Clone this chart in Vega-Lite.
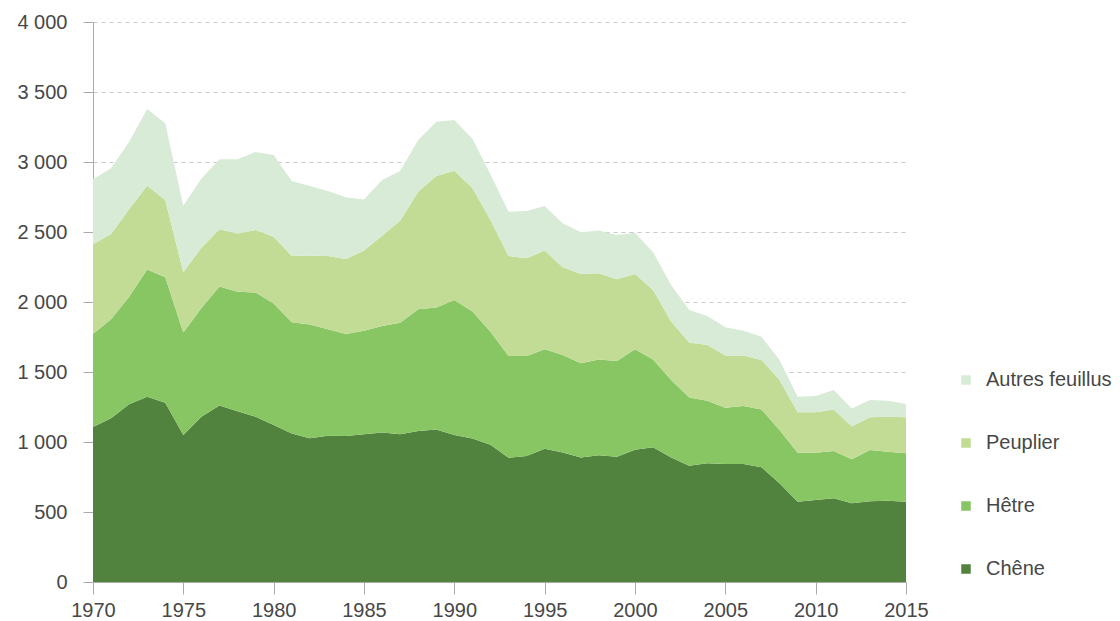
{
  "$schema": "https://vega.github.io/schema/vega-lite/v6.json",
  "autosize": {"type": "none"},
  "width": 813,
  "height": 560,
  "padding": {"left": 93, "top": 22, "right": 214, "bottom": 39},
  "background": "white",
  "config": {
    "view": {"stroke": null},
    "font": "Liberation Sans",
    "locale": {"number": {"decimal": ",", "thousands": " ", "grouping": [3], "currency": ["", " €"]}}
  },
  "data": {"values": [
    {"year":1970,"species":"Chêne","volume":1107},{"year":1970,"species":"Hêtre","volume":664},{"year":1970,"species":"Peuplier","volume":641},{"year":1970,"species":"Autres feuillus","volume":464},
    {"year":1971,"species":"Chêne","volume":1170},{"year":1971,"species":"Hêtre","volume":706},{"year":1971,"species":"Peuplier","volume":610},{"year":1971,"species":"Autres feuillus","volume":469},
    {"year":1972,"species":"Chêne","volume":1270},{"year":1972,"species":"Hêtre","volume":768},{"year":1972,"species":"Peuplier","volume":624},{"year":1972,"species":"Autres feuillus","volume":483},
    {"year":1973,"species":"Chêne","volume":1324},{"year":1973,"species":"Hêtre","volume":909},{"year":1973,"species":"Peuplier","volume":598},{"year":1973,"species":"Autres feuillus","volume":548},
    {"year":1974,"species":"Chêne","volume":1280},{"year":1974,"species":"Hêtre","volume":896},{"year":1974,"species":"Peuplier","volume":553},{"year":1974,"species":"Autres feuillus","volume":547},
    {"year":1975,"species":"Chêne","volume":1050},{"year":1975,"species":"Hêtre","volume":733},{"year":1975,"species":"Peuplier","volume":429},{"year":1975,"species":"Autres feuillus","volume":476},
    {"year":1976,"species":"Chêne","volume":1180},{"year":1976,"species":"Hêtre","volume":777},{"year":1976,"species":"Peuplier","volume":431},{"year":1976,"species":"Autres feuillus","volume":495},
    {"year":1977,"species":"Chêne","volume":1260},{"year":1977,"species":"Hêtre","volume":850},{"year":1977,"species":"Peuplier","volume":409},{"year":1977,"species":"Autres feuillus","volume":500},
    {"year":1978,"species":"Chêne","volume":1220},{"year":1978,"species":"Hêtre","volume":854},{"year":1978,"species":"Peuplier","volume":416},{"year":1978,"species":"Autres feuillus","volume":529},
    {"year":1979,"species":"Chêne","volume":1180},{"year":1979,"species":"Hêtre","volume":887},{"year":1979,"species":"Peuplier","volume":447},{"year":1979,"species":"Autres feuillus","volume":557},
    {"year":1980,"species":"Chêne","volume":1121},{"year":1980,"species":"Hêtre","volume":869},{"year":1980,"species":"Peuplier","volume":476},{"year":1980,"species":"Autres feuillus","volume":584},
    {"year":1981,"species":"Chêne","volume":1060},{"year":1981,"species":"Hêtre","volume":795},{"year":1981,"species":"Peuplier","volume":474},{"year":1981,"species":"Autres feuillus","volume":535},
    {"year":1982,"species":"Chêne","volume":1026},{"year":1982,"species":"Hêtre","volume":814},{"year":1982,"species":"Peuplier","volume":493},{"year":1982,"species":"Autres feuillus","volume":496},
    {"year":1983,"species":"Chêne","volume":1045},{"year":1983,"species":"Hêtre","volume":760},{"year":1983,"species":"Peuplier","volume":524},{"year":1983,"species":"Autres feuillus","volume":464},
    {"year":1984,"species":"Chêne","volume":1042},{"year":1984,"species":"Hêtre","volume":729},{"year":1984,"species":"Peuplier","volume":536},{"year":1984,"species":"Autres feuillus","volume":441},
    {"year":1985,"species":"Chêne","volume":1055},{"year":1985,"species":"Hêtre","volume":740},{"year":1985,"species":"Peuplier","volume":572},{"year":1985,"species":"Autres feuillus","volume":366},
    {"year":1986,"species":"Chêne","volume":1068},{"year":1986,"species":"Hêtre","volume":761},{"year":1986,"species":"Peuplier","volume":645},{"year":1986,"species":"Autres feuillus","volume":397},
    {"year":1987,"species":"Chêne","volume":1055},{"year":1987,"species":"Hêtre","volume":797},{"year":1987,"species":"Peuplier","volume":729},{"year":1987,"species":"Autres feuillus","volume":355},
    {"year":1988,"species":"Chêne","volume":1078},{"year":1988,"species":"Hêtre","volume":870},{"year":1988,"species":"Peuplier","volume":840},{"year":1988,"species":"Autres feuillus","volume":369},
    {"year":1989,"species":"Chêne","volume":1090},{"year":1989,"species":"Hêtre","volume":870},{"year":1989,"species":"Peuplier","volume":940},{"year":1989,"species":"Autres feuillus","volume":388},
    {"year":1990,"species":"Chêne","volume":1050},{"year":1990,"species":"Hêtre","volume":964},{"year":1990,"species":"Peuplier","volume":924},{"year":1990,"species":"Autres feuillus","volume":362},
    {"year":1991,"species":"Chêne","volume":1025},{"year":1991,"species":"Hêtre","volume":908},{"year":1991,"species":"Peuplier","volume":882},{"year":1991,"species":"Autres feuillus","volume":351},
    {"year":1992,"species":"Chêne","volume":980},{"year":1992,"species":"Hêtre","volume":808},{"year":1992,"species":"Peuplier","volume":798},{"year":1992,"species":"Autres feuillus","volume":326},
    {"year":1993,"species":"Chêne","volume":888},{"year":1993,"species":"Hêtre","volume":726},{"year":1993,"species":"Peuplier","volume":715},{"year":1993,"species":"Autres feuillus","volume":316},
    {"year":1994,"species":"Chêne","volume":900},{"year":1994,"species":"Hêtre","volume":714},{"year":1994,"species":"Peuplier","volume":698},{"year":1994,"species":"Autres feuillus","volume":338},
    {"year":1995,"species":"Chêne","volume":952},{"year":1995,"species":"Hêtre","volume":710},{"year":1995,"species":"Peuplier","volume":705},{"year":1995,"species":"Autres feuillus","volume":319},
    {"year":1996,"species":"Chêne","volume":925},{"year":1996,"species":"Hêtre","volume":696},{"year":1996,"species":"Peuplier","volume":627},{"year":1996,"species":"Autres feuillus","volume":314},
    {"year":1997,"species":"Chêne","volume":890},{"year":1997,"species":"Hêtre","volume":672},{"year":1997,"species":"Peuplier","volume":638},{"year":1997,"species":"Autres feuillus","volume":298},
    {"year":1998,"species":"Chêne","volume":905},{"year":1998,"species":"Hêtre","volume":685},{"year":1998,"species":"Peuplier","volume":615},{"year":1998,"species":"Autres feuillus","volume":305},
    {"year":1999,"species":"Chêne","volume":895},{"year":1999,"species":"Hêtre","volume":684},{"year":1999,"species":"Peuplier","volume":583},{"year":1999,"species":"Autres feuillus","volume":317},
    {"year":2000,"species":"Chêne","volume":945},{"year":2000,"species":"Hêtre","volume":717},{"year":2000,"species":"Peuplier","volume":538},{"year":2000,"species":"Autres feuillus","volume":295},
    {"year":2001,"species":"Chêne","volume":962},{"year":2001,"species":"Hêtre","volume":628},{"year":2001,"species":"Peuplier","volume":496},{"year":2001,"species":"Autres feuillus","volume":270},
    {"year":2002,"species":"Chêne","volume":890},{"year":2002,"species":"Hêtre","volume":553},{"year":2002,"species":"Peuplier","volume":417},{"year":2002,"species":"Autres feuillus","volume":261},
    {"year":2003,"species":"Chêne","volume":831},{"year":2003,"species":"Hêtre","volume":486},{"year":2003,"species":"Peuplier","volume":393},{"year":2003,"species":"Autres feuillus","volume":233},
    {"year":2004,"species":"Chêne","volume":848},{"year":2004,"species":"Hêtre","volume":447},{"year":2004,"species":"Peuplier","volume":398},{"year":2004,"species":"Autres feuillus","volume":207},
    {"year":2005,"species":"Chêne","volume":843},{"year":2005,"species":"Hêtre","volume":402},{"year":2005,"species":"Peuplier","volume":372},{"year":2005,"species":"Autres feuillus","volume":202},
    {"year":2006,"species":"Chêne","volume":843},{"year":2006,"species":"Hêtre","volume":414},{"year":2006,"species":"Peuplier","volume":360},{"year":2006,"species":"Autres feuillus","volume":178},
    {"year":2007,"species":"Chêne","volume":819},{"year":2007,"species":"Hêtre","volume":414},{"year":2007,"species":"Peuplier","volume":353},{"year":2007,"species":"Autres feuillus","volume":166},
    {"year":2008,"species":"Chêne","volume":705},{"year":2008,"species":"Hêtre","volume":381},{"year":2008,"species":"Peuplier","volume":357},{"year":2008,"species":"Autres feuillus","volume":143},
    {"year":2009,"species":"Chêne","volume":574},{"year":2009,"species":"Hêtre","volume":350},{"year":2009,"species":"Peuplier","volume":288},{"year":2009,"species":"Autres feuillus","volume":112},
    {"year":2010,"species":"Chêne","volume":585},{"year":2010,"species":"Hêtre","volume":339},{"year":2010,"species":"Peuplier","volume":288},{"year":2010,"species":"Autres feuillus","volume":117},
    {"year":2011,"species":"Chêne","volume":598},{"year":2011,"species":"Hêtre","volume":338},{"year":2011,"species":"Peuplier","volume":297},{"year":2011,"species":"Autres feuillus","volume":138},
    {"year":2012,"species":"Chêne","volume":562},{"year":2012,"species":"Hêtre","volume":314},{"year":2012,"species":"Peuplier","volume":234},{"year":2012,"species":"Autres feuillus","volume":130},
    {"year":2013,"species":"Chêne","volume":577},{"year":2013,"species":"Hêtre","volume":366},{"year":2013,"species":"Peuplier","volume":233},{"year":2013,"species":"Autres feuillus","volume":124},
    {"year":2014,"species":"Chêne","volume":580},{"year":2014,"species":"Hêtre","volume":351},{"year":2014,"species":"Peuplier","volume":250},{"year":2014,"species":"Autres feuillus","volume":114},
    {"year":2015,"species":"Chêne","volume":574},{"year":2015,"species":"Hêtre","volume":345},{"year":2015,"species":"Peuplier","volume":257},{"year":2015,"species":"Autres feuillus","volume":95}
  ]},
  "transform": [
    {"calculate": "indexof(['Chêne','Hêtre','Peuplier','Autres feuillus'], datum.species)", "as": "stackOrder"}
  ],
  "mark": {"type": "area", "interpolate": "linear", "opacity": 1},
  "encoding": {
    "x": {
      "field": "year", "type": "quantitative",
      "scale": {"domain": [1970, 2015], "nice": false, "zero": false},
      "axis": {
        "title": null, "values": [1970,1975,1980,1985,1990,1995,2000,2005,2010,2015],
        "format": "d", "grid": false,
        "domainColor": "#aaaaaa", "tickColor": "#aaaaaa", "tickSize": 12,
        "labelFontSize": 20, "labelColor": "#474747", "labelPadding": 6, "labelFlush": false
      }
    },
    "y": {
      "field": "volume", "type": "quantitative", "stack": "zero",
      "scale": {"domain": [0, 4000], "nice": false},
      "axis": {
        "title": null, "values": [0,500,1000,1500,2000,2500,3000,3500,4000],
        "format": ",d",
        "grid": true, "gridDash": [4, 4], "gridColor": "#c8c8c8",
        "domainColor": "#aaaaaa", "tickColor": "#aaaaaa", "tickSize": 10,
        "labelFontSize": 20, "labelColor": "#474747", "labelPadding": 16
      }
    },
    "color": {
      "field": "species", "type": "nominal",
      "scale": {
        "domain": ["Autres feuillus", "Peuplier", "Hêtre", "Chêne"],
        "range": ["#d8ebd6", "#c2dc96", "#88c664", "#52833e"]
      },
      "legend": {
        "title": null, "orient": "none", "legendX": 863, "legendY": 348,
        "symbolType": "square", "symbolSize": 90, "symbolOpacity": 1,
        "labelFontSize": 20, "labelColor": "#474747", "labelOffset": 10,
        "rowPadding": 43, "padding": 0
      }
    },
    "order": {"field": "stackOrder", "type": "quantitative", "sort": "ascending"}
  }
}
